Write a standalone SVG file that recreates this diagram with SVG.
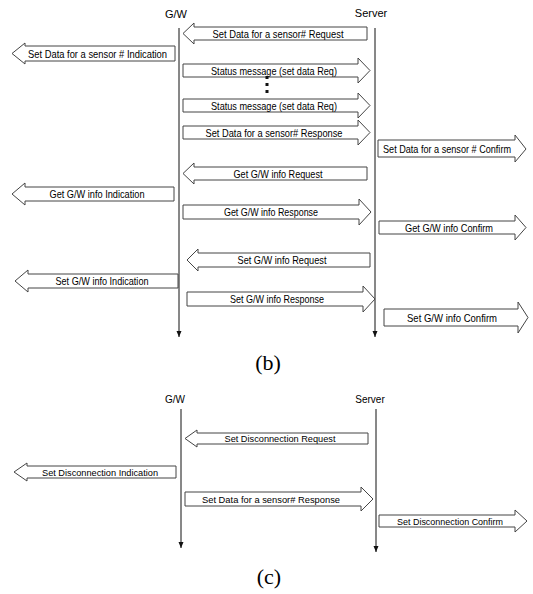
<svg xmlns="http://www.w3.org/2000/svg" width="533" height="594" viewBox="0 0 533 594">
<style>
.ar{fill:#fff;stroke:#444;stroke-width:1}
.lf{stroke:#111;stroke-width:1;fill:none}
.t{font-family:"Liberation Sans",Arial,sans-serif;font-size:11.5px;fill:#000;text-anchor:middle}
.s{font-family:"Liberation Sans",Arial,sans-serif;font-size:9.5px;fill:#000;text-anchor:middle}
.h{font-family:"Liberation Sans",Arial,sans-serif;font-size:11px;fill:#000;text-anchor:middle}
.cap{font-family:"Liberation Serif","Times New Roman",serif;font-size:22px;fill:#000;text-anchor:middle}
</style>
<defs>
<marker id="ah" markerWidth="7" markerHeight="6" refX="6" refY="2.5" orient="auto" markerUnits="userSpaceOnUse">
<path d="M0,0 L6,2.5 L0,5 Z" fill="#111"/>
</marker>
</defs>
<g id="lifelines">
<text class="h" x="176" y="18">G/W</text>
<text class="h" x="371" y="17">Server</text>
<line class="lf" x1="179" y1="28" x2="179" y2="337" marker-end="url(#ah)"/>
<line class="lf" x1="375" y1="28" x2="375" y2="337" marker-end="url(#ah)"/>
<text class="h" x="175" y="403" style="font-size:10px">G/W</text>
<text class="h" x="370" y="403" style="font-size:10px">Server</text>
<line class="lf" x1="181" y1="409" x2="181" y2="548" marker-end="url(#ah)"/>
<line class="lf" x1="376" y1="409" x2="376" y2="552" marker-end="url(#ah)"/>
</g>
<g id="connectors">
<g id="a1"><polygon class="ar" points="183,33.5 194,23 194,27 367,27 367,40 194,40 194,44"/><text class="t" x="278" y="37.5" textLength="131" lengthAdjust="spacingAndGlyphs">Set Data for a sensor# Request</text></g>
<g id="a2"><polygon class="ar" points="12,53.5 25,43 25,46 175,46 175,61 25,61 25,64"/><text class="t" x="97.5" y="57.5" textLength="139" lengthAdjust="spacingAndGlyphs">Set Data for a sensor # Indication</text></g>
<g id="a3"><polygon class="ar" points="183,64 358,64 358,58 370,70.5 358,83 358,77 183,77"/><text class="t" x="274" y="74.5" textLength="126" lengthAdjust="spacingAndGlyphs">Status message (set data Req)</text></g>
<g id="dots" fill="#111"><rect x="265.5" y="76" width="3" height="3"/><rect x="265.5" y="83" width="3" height="3"/><rect x="265.5" y="90" width="3" height="3"/></g>
<g id="a4"><polygon class="ar" points="183,99 358,99 358,93 370,105.5 358,118 358,112 183,112"/><text class="t" x="274" y="109.5" textLength="126" lengthAdjust="spacingAndGlyphs">Status message (set data Req)</text></g>
<g id="a5"><polygon class="ar" points="183,126 358,126 358,120 370,132.5 358,145 358,139 183,139"/><text class="t" x="274" y="136.5" textLength="137" lengthAdjust="spacingAndGlyphs">Set Data for a sensor# Response</text></g>
<g id="a6"><polygon class="ar" points="378,140 515,140 515,135 526,149 515,162 515,157 378,157"/><text class="t" x="447" y="152.5" textLength="128" lengthAdjust="spacingAndGlyphs" style="font-size:11px">Set Data for a sensor # Confirm</text></g>
<g id="a7"><polygon class="ar" points="183,173.5 194,163 194,167 367,167 367,180 194,180 194,184"/><text class="t" x="278" y="177.5" textLength="89" lengthAdjust="spacingAndGlyphs">Get G/W info Request</text></g>
<g id="a8"><polygon class="ar" points="12,194 25,183 25,187 174,187 174,201 25,201 25,205"/><text class="t" x="97" y="198" textLength="95" lengthAdjust="spacingAndGlyphs">Get G/W info Indication</text></g>
<g id="a9"><polygon class="ar" points="183,205 359,205 359,199 371,212 359,225 359,219 183,219"/><text class="t" x="271" y="216" textLength="94" lengthAdjust="spacingAndGlyphs">Get G/W info Response</text></g>
<g id="a10"><polygon class="ar" points="379,221 515,221 515,215 526,227.5 515,240 515,234 379,234"/><text class="t" x="449" y="231.5" textLength="88" lengthAdjust="spacingAndGlyphs">Get G/W info Confirm</text></g>
<g id="a11"><polygon class="ar" points="187,260 198,249 198,253 370,253 370,267 198,267 198,271"/><text class="t" x="282" y="264" textLength="89" lengthAdjust="spacingAndGlyphs">Set G/W info Request</text></g>
<g id="a12"><polygon class="ar" points="15,281 28,270 28,274 178,274 178,288 28,288 28,292"/><text class="t" x="102" y="285" textLength="93" lengthAdjust="spacingAndGlyphs">Set G/W info Indication</text></g>
<g id="a13"><polygon class="ar" points="187,292 363,292 363,286 375,299 363,312 363,306 187,306"/><text class="t" x="277" y="303" textLength="94" lengthAdjust="spacingAndGlyphs">Set G/W info Response</text></g>
<g id="a14"><polygon class="ar" points="384,309 518,309 518,302 528,317.5 518,333 518,326 384,326"/><text class="t" x="452" y="321.5" textLength="90" lengthAdjust="spacingAndGlyphs">Set G/W info Confirm</text></g>
<g id="c1"><polygon class="ar" points="185,438.5 197,430 197,433 368,433 368,444 197,444 197,447"/><text class="s" x="280" y="442" textLength="111" lengthAdjust="spacingAndGlyphs">Set Disconnection Request</text></g>
<g id="c2"><polygon class="ar" points="14,472 27,463 27,466 176,466 176,478 27,478 27,481"/><text class="s" x="100" y="475.5" textLength="116" lengthAdjust="spacingAndGlyphs">Set Disconnection Indication</text></g>
<g id="c3"><polygon class="ar" points="185,492 361,492 361,487 373,499 361,511 361,506 185,506"/><text class="s" x="271" y="502.5" textLength="138" lengthAdjust="spacingAndGlyphs">Set Data for a sensor# Response</text></g>
<g id="c4"><polygon class="ar" points="379,515 515,515 515,510 527,521 515,532 515,527 379,527"/><text class="s" x="450" y="524.5" textLength="106" lengthAdjust="spacingAndGlyphs">Set Disconnection Confirm</text></g>
</g>
<text class="cap" x="268" y="370">(b)</text>
<text class="cap" x="269" y="584">(c)</text>
</svg>
